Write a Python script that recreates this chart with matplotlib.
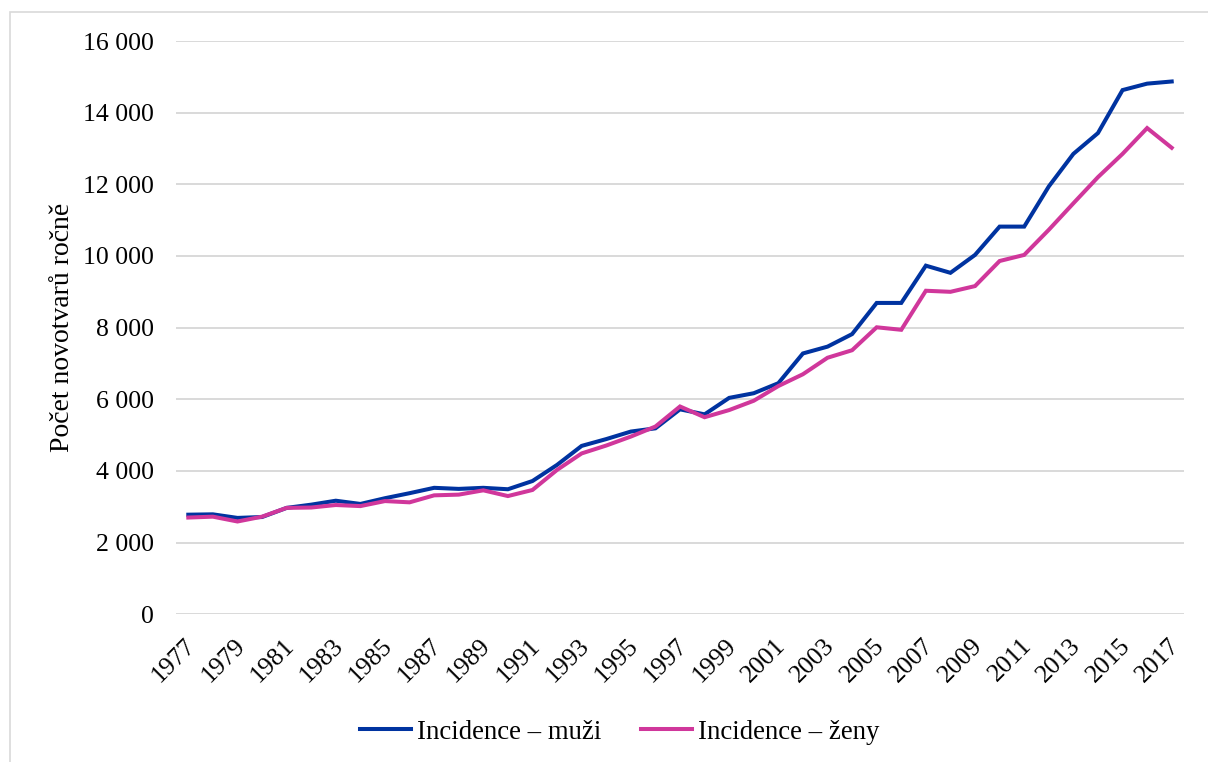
import numpy as np
import matplotlib
matplotlib.use('Agg')
import matplotlib.pyplot as plt
from matplotlib.patches import Rectangle
from matplotlib.ticker import FuncFormatter
from matplotlib.transforms import ScaledTranslation

plt.rcParams['font.family'] = ['Liberation Serif', 'DejaVu Serif']

# roky
roky = list(range(1977, 2018))

# incidence - muzi
muzi = [2780, 2790, 2690, 2715, 2970, 3060, 3170, 3080, 3240, 3380,
        3530, 3500, 3530, 3490, 3720, 4170, 4700, 4890, 5100, 5190,
        5720, 5580, 6040, 6170, 6450, 7280, 7470, 7820, 8690, 8690,
        9730, 9530, 10030, 10820, 10820, 11940, 12850, 13430, 14630, 14810,
        14870]

# incidence - zeny
zeny = [2700, 2725, 2590, 2725, 2970, 2980, 3050, 3020, 3160, 3125,
        3320, 3340, 3460, 3300, 3470, 4030, 4490, 4710, 4960, 5240,
        5800, 5500, 5700, 5960, 6370, 6700, 7160, 7370, 8010, 7940,
        9030, 9000, 9160, 9860, 10030, 10730, 11470, 12200, 12850, 13570,
        13020]

nazvy = ['Incidence – muži', 'Incidence – ženy']
barvy = ['#0033A0', '#D0379B']

fig = plt.figure(figsize=(12.08, 7.62), dpi=100)
fig.set_facecolor('white')

# ramecek kolem grafu
fig.patches.append(Rectangle((10 / 1208, -0.01), 1.0, 1 - 12 / 762 + 0.01,
                             transform=fig.transFigure, fill=False,
                             edgecolor='#D9D9D9', linewidth=1.2))

ax = fig.add_axes([176 / 1208, 1 - 614.3 / 762, (1184 - 176) / 1208, (614.3 - 41) / 762])
x = np.arange(len(roky))
ax.plot(x, muzi, color=barvy[0], linewidth=2.9, label=nazvy[0], solid_joinstyle='miter')
ax.plot(x, zeny, color=barvy[1], linewidth=2.9, label=nazvy[1], solid_joinstyle='miter')

ax.set_xlim(-0.5, len(roky) - 0.5)
ax.set_ylim(0, 16000)
ax.set_yticks(range(0, 16001, 2000))
ax.yaxis.set_major_formatter(FuncFormatter(lambda v, p: f'{int(v):,}'.replace(',', ' ')))
ax.grid(axis='y', color='#D9D9D9', linewidth=1.4)
ax.set_axisbelow(True)
for s in ax.spines.values():
    s.set_visible(False)

ax.set_xticks(x[::2])
ax.set_xticklabels([str(r) for r in roky[::2]], rotation=45, ha='right',
                   va='center', rotation_mode='anchor')
ax.tick_params(axis='x', length=0, pad=20, labelsize=18.5)
ax.tick_params(axis='y', length=0, pad=16, labelsize=18.5)
posun = ScaledTranslation(4 / 100, 0, fig.dpi_scale_trans)
for t in ax.get_xticklabels():
    t.set_transform(t.get_transform() + posun)
ax.set_ylabel('Počet novotvarů ročně', fontsize=20, labelpad=6)

fig.legend(loc='center', bbox_to_anchor=(0.513, 0.039), ncol=2, frameon=False,
           fontsize=19.3, handlelength=1.9, columnspacing=1.5, handletextpad=0.2)

fig.savefig('out.png', dpi=100, facecolor='white')
